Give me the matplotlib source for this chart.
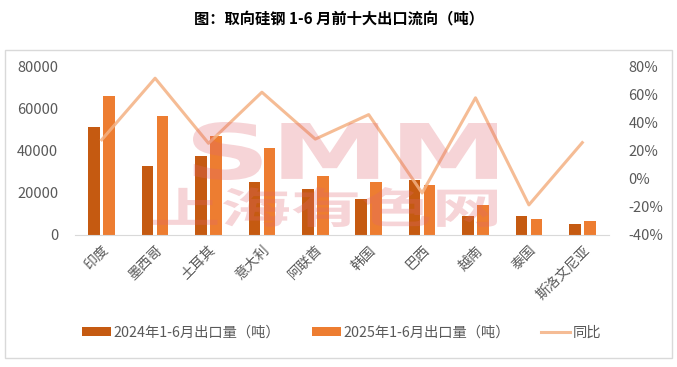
import matplotlib.pyplot as plt
import numpy as np
from matplotlib.patches import Rectangle, PathPatch
from matplotlib.textpath import TextPath
from matplotlib.font_manager import FontProperties
from matplotlib.transforms import Affine2D, IdentityTransform

plt.rcParams['font.family'] = ['Noto Sans CJK SC', 'DejaVu Sans']

countries = ['印度', '墨西哥', '土耳其', '意大利', '阿联酋', '韩国', '巴西', '越南', '泰国', '斯洛文尼亚']
exp_2024 = [51500, 32800, 37400, 25200, 21700, 17100, 26300, 9000, 9000, 5200]
exp_2025 = [66100, 56600, 47200, 41500, 28000, 25200, 23800, 14300, 7400, 6500]
yoy = [28, 72, 25.5, 62, 28.5, 46, -10, 58, -18.5, 26]

c24 = '#C55A11'
c25 = '#ED7D31'
cline = '#F4B183'
tick_col = '#595959'

fig = plt.figure(figsize=(6.77, 3.67), dpi=100)
W, H = 677, 367


def stamp(txt, box, family):
    # watermark text squeezed into a pixel box (left, top, right, bottom)
    tp = TextPath((0, 0), txt, size=100, prop=FontProperties(family=family, weight='bold'))
    bb = tp.get_extents()
    x0, y0, x1, y1 = box
    tr = (Affine2D().translate(-bb.x0, -bb.y0)
          .scale((x1 - x0) / bb.width, (y1 - y0) / bb.height)
          .translate(x0, H - y1))
    p = PathPatch(tr.transform_path(tp), facecolor='#E06670', edgecolor='none', alpha=0.28,
                  transform=IdentityTransform(), zorder=10)
    fig.add_artist(p)


# outer chart frame
fig.patches.append(Rectangle((5 / W, 9 / H), 667 / W, 308 / H, transform=fig.transFigure,
                             fill=False, edgecolor='#D9D9D9', linewidth=1))

fig.text(0.5, 1 - 18 / H, '图：取向硅钢 1-6 月前十大出口流向（吨）', ha='center', va='center',
         fontsize=11, fontweight='bold', color='black')

ax = fig.add_axes([75 / W, 1 - 235 / H, 534 / W, 168 / H])
x = np.arange(len(countries))
bw = 0.22
ax.bar(x - 0.14, exp_2024, bw, color=c24, label='2024年1-6月出口量（吨）', zorder=2)
ax.bar(x + 0.14, exp_2025, bw, color=c25, label='2025年1-6月出口量（吨）', zorder=2)
ax.set_xlim(-0.5, len(countries) - 0.5)
ax.set_ylim(0, 80000)
ax.set_yticks(range(0, 80001, 20000))
ax.set_xticks(x)
ax.set_xticklabels(countries, rotation=45, ha='right', va='top', rotation_mode='anchor',
                   fontsize=10, color=tick_col)
ax.tick_params(axis='y', length=0, labelsize=10.5, labelcolor=tick_col, pad=12)
ax.tick_params(axis='x', length=0, pad=6)
for s in ['top', 'right', 'left']:
    ax.spines[s].set_visible(False)
ax.spines['bottom'].set_color('#D9D9D9')

ax2 = ax.twinx()
ax2.plot(x, yoy, color=cline, linewidth=2.2, alpha=0.85, label='同比', zorder=3)
ax2.set_ylim(-40, 80)
ax2.set_yticks(range(-40, 81, 20))
ax2.set_yticklabels([f'{v}%' for v in range(-40, 81, 20)])
ax2.tick_params(axis='y', length=0, labelsize=10.5, labelcolor=tick_col, pad=14)
for s in ['top', 'right', 'left', 'bottom']:
    ax2.spines[s].set_visible(False)

# watermark
stamp('SMM', (193, 122, 497, 180), 'DejaVu Sans')
stamp('上海有色网', (153, 187, 497, 227), 'Noto Sans CJK SC')

h1, l1 = ax.get_legend_handles_labels()
h2, l2 = ax2.get_legend_handles_labels()
fig.legend(h1 + h2, l1 + l2, loc='center', bbox_to_anchor=(0.505, 1 - 333 / H), ncol=3,
           frameon=False, fontsize=10.3, handlelength=2.0, handleheight=0.6, columnspacing=2.2,
           handletextpad=0.2, labelcolor=tick_col)

fig.savefig('out.png', dpi=100)
